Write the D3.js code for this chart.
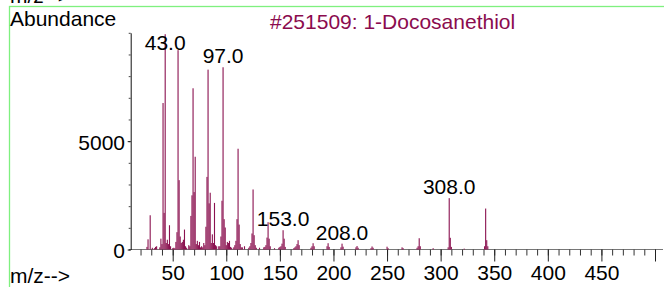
<!DOCTYPE html>
<html>
<head>
<meta charset="utf-8">
<script src="https://cdn.jsdelivr.net/npm/d3@7"></script>
<style>
  body { margin: 0; background: #fff; }
  svg text { font-family: "Liberation Sans", Arial, sans-serif; font-size: 21px; }
</style>
</head>
<body>
<script>
// spectrum values
const mz_values = [26, 27, 29, 31, 33, 34, 35, 38, 39, 40, 41, 42, 43, 44, 45, 46, 47, 48,
  50, 51, 52, 53, 54, 55, 56, 57, 58, 59, 60, 61, 62, 63, 65, 66, 67, 68, 69, 70, 71, 72,
  73, 74, 75, 76, 77, 78, 79, 80, 81, 82, 83, 84, 85, 86, 87, 88, 89, 90, 91, 93, 94, 95,
  96, 97, 98, 99, 100, 101, 102, 103, 104, 105, 107, 108, 109, 110, 111, 112, 113, 114, 115,
  117, 121, 122, 123, 124, 125, 126, 127, 128, 131, 135, 136, 137, 138, 139, 140, 141, 145,
  149, 150, 151, 152, 153, 154, 155, 163, 164, 165, 166, 167, 168, 179, 180, 181, 182, 194,
  195, 196, 207, 208, 209, 221, 222, 223, 235, 236, 237, 250, 251, 264, 265, 278, 279, 280,
  281, 293, 307, 308, 309, 310, 322, 341, 342, 343, 344];
const abundance_values = [120, 470, 1580, 80, 60, 120, 150, 100, 500, 250, 6760, 1690, 9935, 300, 450, 250, 1120, 150,
  60, 80, 60, 350, 800, 9200, 3200, 600, 300, 350, 450, 920, 150, 80, 200, 150, 1550, 2500, 7440, 2650, 4280, 250,
  400, 200, 350, 100, 150, 100, 300, 200, 1050, 3350, 8300, 2130, 2620, 300, 700, 300, 2150, 200, 150, 150, 150, 600,
  2250, 8410, 1400, 1015, 200, 350, 300, 400, 120, 80, 100, 200, 400, 1400, 4650, 1150, 250, 100, 100,
  150, 80, 150, 300, 740, 2770, 660, 200, 80, 80, 100, 120, 200, 550, 1260, 500, 150, 60,
  80, 120, 150, 270, 890, 500, 120, 60, 100, 150, 250, 430, 200, 80, 150, 290, 150, 150,
  290, 120, 100, 270, 130, 100, 160, 80, 60, 140, 80, 130, 60, 100, 60, 80, 150, 520,
  150, 60, 100, 2370, 540, 120, 40, 150, 1890, 430, 150];
const peak_labels = [43, 97, 153, 208, 308];
const x_major_ticks = [50, 100, 150, 200, 250, 300, 350, 400, 450, 500];
const y_major_ticks = [0, 5000];
const title_text = "#251509: 1-Docosanethiol";

const spectrum = mz_values.map((m, i) => ({ mz: m, value: abundance_values[i] }));

let svg = d3.select("body").append("svg")
    .attr("width", 664)
    .attr("height", 287);

svg.append("rect")
    .attr("width", 664)
    .attr("height", 287)
    .attr("fill", "#fff");

let x = d3.scaleLinear().domain([0, 500]).range([119.1, 655]);
let y = d3.scaleLinear().domain([0, 10000]).range([249.5, 32.8]);

// green frame, runs off the picture on the right and bottom
svg.append("rect")
    .attr("x", 9.5)
    .attr("y", 6.5)
    .attr("width", 700)
    .attr("height", 300)
    .attr("fill", "none")
    .attr("stroke", "#7ff07f")
    .attr("stroke-width", 1.3);

// leftover label of the panel above (cut off in the reference too)
svg.append("text").attr("x", 10).attr("y", 2.5).attr("fill", "#000").text("m/z-->");

svg.append("text").attr("x", 10).attr("y", 26).attr("fill", "#000").text("Abundance");
svg.append("text").attr("x", 10).attr("y", 283).attr("fill", "#000").text("m/z-->");

svg.append("text")
    .attr("x", 270)
    .attr("y", 29)
    .attr("fill", "#8b0b4e")
    .text(title_text);

// x axis
svg.append("line")
    .attr("x1", 129).attr("x2", 663)
    .attr("y1", 249.5).attr("y2", 249.5)
    .attr("stroke", "#777")
    .attr("stroke-width", 1);

let x_minor = svg.append("g")
    .attr("transform", "translate(0,249.5)")
    .call(d3.axisBottom(x).tickValues(d3.range(20, 501, 10)).tickSize(6).tickFormat(""));
x_minor.select(".domain").remove();
x_minor.selectAll("line").attr("stroke", "#333");

let x_major = svg.append("g")
    .attr("transform", "translate(0,249.5)")
    .call(d3.axisBottom(x).tickValues(x_major_ticks).tickSize(12)
        .tickFormat(d => d === 500 ? "" : d));
x_major.select(".domain").remove();
x_major.selectAll("line").attr("stroke", "#222");
x_major.selectAll("text")
    .attr("y", 30.5)
    .attr("dy", null)
    .attr("fill", "#000")
    .style("font-size", "21px")
    .style("font-family", "Liberation Sans, Arial, sans-serif");

// y axis
let y_minor = svg.append("g")
    .attr("transform", "translate(130.7,0)")
    .call(d3.axisLeft(y).tickValues(d3.range(0, 10001, 1000)).tickSize(2).tickSizeOuter(0).tickFormat(""));
y_minor.select(".domain").attr("stroke", "#111");
y_minor.selectAll("line").attr("stroke", "#444");

let y_major = svg.append("g")
    .attr("transform", "translate(130.7,0)")
    .call(d3.axisLeft(y).tickValues(y_major_ticks).tickSize(3).tickPadding(2.7).tickFormat(d3.format("d")));
y_major.select(".domain").remove();
y_major.selectAll("line").attr("stroke", "#222");
y_major.selectAll("text")
    .attr("dy", "0.38em")
    .attr("fill", "#000")
    .style("font-size", "21px")
    .style("font-family", "Liberation Sans, Arial, sans-serif");

// peaks
svg.append("g").selectAll("rect")
    .data(spectrum)
    .enter()
    .append("rect")
    .attr("x", d => x(d.mz) - 0.55)
    .attr("width", 1.1)
    .attr("y", d => y(d.value))
    .attr("height", d => y(0) - y(d.value))
    .attr("fill", "#8b1250");

// peak labels
svg.append("g").selectAll("text")
    .data(spectrum.filter(d => peak_labels.includes(d.mz)))
    .enter()
    .append("text")
    .attr("x", d => x(d.mz))
    .attr("y", d => Math.max(y(d.value) - 4, 50))
    .attr("text-anchor", "middle")
    .attr("fill", "#000")
    .text(d => d.mz.toFixed(1));
</script>
</body>
</html>
